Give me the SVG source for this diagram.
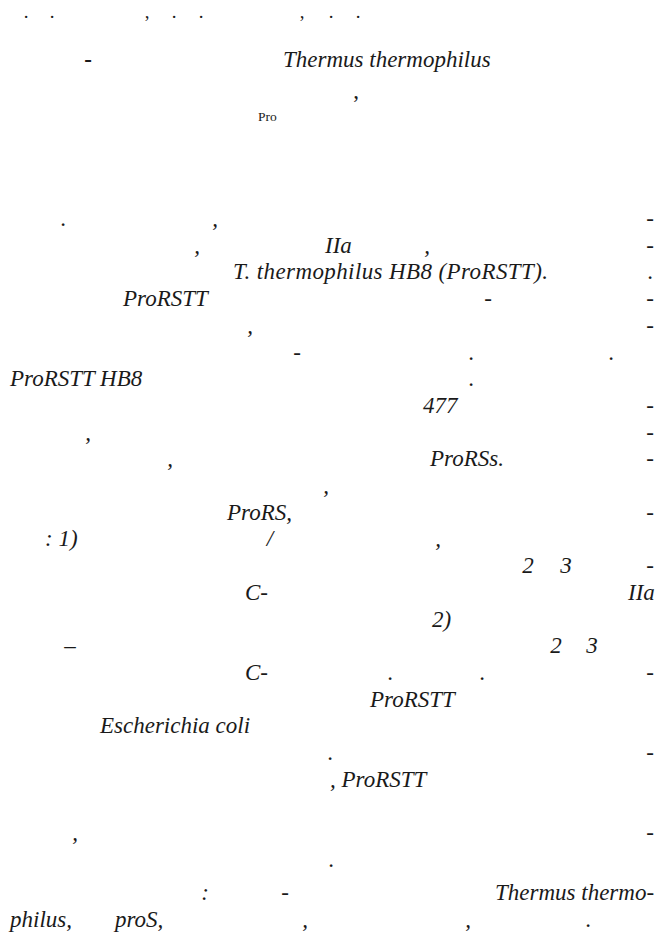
<svg xmlns="http://www.w3.org/2000/svg" width="656" height="936" viewBox="0 0 656 936" font-family="'Liberation Serif', Tinos, 'DejaVu Serif', serif">
<style>
text{font-family:'Liberation Serif', Tinos, 'DejaVu Serif', serif;fill:#1a1a1a}
.i{font-style:italic;font-size:23px}
.p{font-size:23px;text-anchor:middle}
.h{font-size:19px;text-anchor:middle}
.s{font-size:13.5px}
</style>
<rect width="656" height="936" fill="#ffffff"/>
<g id="header">
<text class="h" x="26" y="17.5">.</text><text class="h" x="52" y="17.5">.</text>
<text class="h" x="147" y="17.5">,</text>
<text class="h" x="174" y="17.5">.</text><text class="h" x="201" y="17.5">.</text>
<text class="h" x="302" y="17.5">,</text>
<text class="h" x="331" y="17.5">.</text><text class="h" x="358" y="17.5">.</text>
<text class="p" x="88" y="67" font-weight="bold">-</text>
<text class="i" x="283" y="67">Thermus thermophilus</text>
<text class="p" x="356" y="98">,</text>
<text class="s" x="258" y="121">Pro</text>
</g>
<g id="body">
<text class="p" x="63" y="226">.</text><text class="p i" x="215" y="226">,</text><text class="p" x="650" y="226">-</text>
<text class="p i" x="197" y="252.7">,</text><text class="i" x="325" y="252.7">IIa</text><text class="p i" x="427" y="252.7">,</text><text class="p" x="650" y="252.7">-</text>
<text class="i" x="233" y="279.4" textLength="315" lengthAdjust="spacing">T. thermophilus HB8 (ProRSTT).</text><text class="p" x="650" y="279.4">.</text>
<text class="i" x="123" y="306.1">ProRSTT</text><text class="p" x="488" y="306.1">-</text><text class="p" x="650" y="306.1">-</text>
<text class="p i" x="250" y="332.8">,</text><text class="p" x="650" y="332.8">-</text>
<text class="p" x="297" y="359.5">-</text><text class="p" x="471" y="359.5">.</text><text class="p" x="611" y="359.5">.</text>
<text class="i" x="10" y="386.2">ProRSTT HB8</text><text class="p" x="471" y="386.2">.</text>
<text class="i" x="423" y="412.9">477</text><text class="p" x="650" y="412.9">-</text>
<text class="p i" x="88" y="439.6">,</text><text class="p" x="650" y="439.6">-</text>
<text class="p i" x="170" y="466.3">,</text><text class="i" x="430" y="466.3">ProRSs.</text><text class="p" x="650" y="466.3">-</text>
<text class="p i" x="326" y="493">,</text>
<text class="i" x="227" y="519.7">ProRS,</text><text class="p" x="650" y="519.7">-</text>
<text class="i" x="45" y="546.4">: 1)</text><text class="p i" x="270" y="546.4">/</text><text class="p i" x="438" y="546.4">,</text>
<text class="p i" x="528" y="573.1">2</text><text class="p i" x="566" y="573.1">3</text><text class="p" x="650" y="573.1">-</text>
<text class="i" x="245" y="599.8">C-</text><text class="i" x="628" y="599.8">IIa</text>
<text class="i" x="432" y="626.5">2)</text>
<text class="p" x="70" y="653.2">–</text><text class="p i" x="556" y="653.2">2</text><text class="p i" x="592" y="653.2">3</text>
<text class="i" x="245" y="679.9">C-</text><text class="p" x="390" y="679.9">.</text><text class="p" x="482" y="679.9">.</text><text class="p" x="650" y="679.9">-</text>
<text class="i" x="370" y="706.6">ProRSTT</text>
<text class="i" x="100" y="733.3">Escherichia coli</text>
<text class="p" x="330" y="760">.</text><text class="p" x="650" y="760">-</text>
<text class="i" x="330" y="786.7">, ProRSTT</text>
<text class="p i" x="75" y="840.1">,</text><text class="p" x="650" y="840.1">-</text>
<text class="p" x="331" y="866.8">.</text>
<text class="p i" x="205" y="900">:</text><text class="p" x="285" y="900">-</text><text class="i" x="495" y="900">Thermus thermo-</text>
<text class="i" x="10" y="927">philus,</text><text class="i" x="115" y="927">proS,</text><text class="p i" x="305" y="927">,</text><text class="p i" x="468" y="927">,</text><text class="p" x="588" y="927">.</text>
</g>
</svg>
